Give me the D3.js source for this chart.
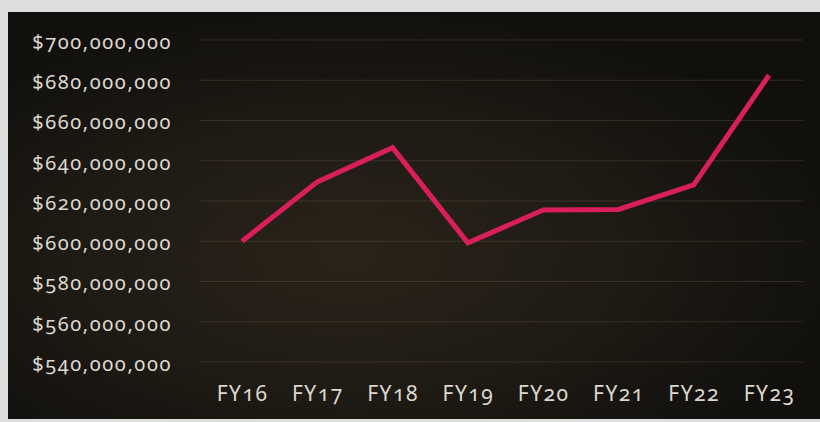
<!DOCTYPE html>
<html><head><meta charset="utf-8">
<script src="https://cdn.jsdelivr.net/npm/d3@7"></script>
<style>
html,body{margin:0;padding:0;background:#d6d7d8;}
svg{display:block;}
text{font-family:"Noto Sans",sans-serif;font-variant-numeric:oldstyle-nums;fill:#dcd8d0;}
</style></head><body>
<svg id="c" width="820" height="422"></svg>
<script>
const categories = ["FY16","FY17","FY18","FY19","FY20","FY21","FY22","FY23"];
const values = [600000000, 629500000, 646500000, 599200000, 615500000, 615800000, 628000000, 682500000];
const yTicks = [540000000,560000000,580000000,600000000,620000000,640000000,660000000,680000000,700000000];

const svg = d3.select("#c");
const defs = svg.append("defs");
const g1 = defs.append("radialGradient").attr("id","bg").attr("cx","0.42").attr("cy","0.6").attr("r","0.62");
g1.append("stop").attr("offset","0").attr("stop-color","#2a2319");
g1.append("stop").attr("offset","0.55").attr("stop-color","#1e1a14");
g1.append("stop").attr("offset","1").attr("stop-color","#11100d");

svg.append("rect").attr("width",820).attr("height",422).attr("fill","#dcdddd");
svg.append("rect").attr("x",8).attr("y",12).attr("width",812).attr("height",407).attr("fill","url(#bg)");

const x = d3.scalePoint().domain(categories).range([242,769]);
const y = d3.scaleLinear().domain([540000000,700000000]).range([362,40]);

// gridlines
svg.append("g").selectAll("line").data(yTicks).join("line")
  .attr("x1",200).attr("x2",803)
  .attr("y1",d=>y(d)).attr("y2",d=>y(d))
  .attr("stroke","rgba(140,118,90,0.25)").attr("stroke-width",1);

// y axis labels
const fmt = d3.format(",");
const yAxis = d3.axisLeft(y).tickValues(yTicks).tickSize(0).tickPadding(0).tickFormat(d=>"$"+fmt(d));
const ya = svg.append("g").attr("transform","translate(172,2)").call(yAxis);
ya.select(".domain").remove();
ya.selectAll("text").attr("font-size",20).attr("letter-spacing","1.6px").attr("fill","#dcd8d0").attr("font-family","'Noto Sans',sans-serif");

// x axis labels
const xAxis = d3.axisBottom(x).tickSize(0).tickPadding(0);
const xa = svg.append("g").attr("transform","translate(0,386)").call(xAxis);
xa.select(".domain").remove();
xa.selectAll("text").attr("font-size",21).attr("letter-spacing","1.5px").attr("fill","#dcd8d0").attr("font-family","'Noto Sans',sans-serif");

// line
const line = d3.line().x((d,i)=>x(categories[i])).y(d=>y(d));
svg.append("path").datum(values).attr("d",line)
  .attr("fill","none").attr("stroke","#d81f5b").attr("stroke-width",5)
  .attr("stroke-linejoin","miter");
</script>
</body></html>
